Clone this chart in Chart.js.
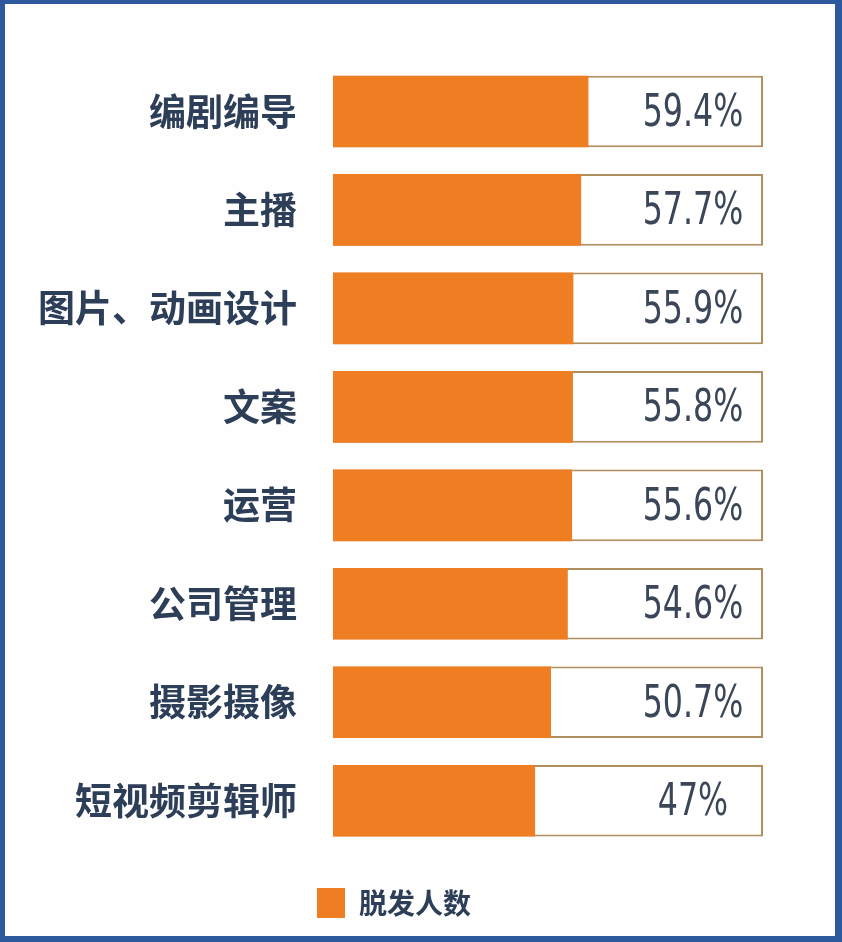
<!DOCTYPE html>
<html>
<head>
<meta charset="utf-8">
<script src="https://cdn.jsdelivr.net/npm/chart.js@4"></script>
<style>
  html, body { margin: 0; padding: 0; background: #fff; }
  #moldura {
    width: 842px; height: 942px; box-sizing: border-box;
    border-style: solid; border-color: #2c5a9c;
    border-width: 4px 7px 6px 5px;
    background: #fefefe;
  }
  #grafico { display: block; }
</style>
</head>
<body>
<div id="moldura"><canvas id="grafico" width="830" height="932"></canvas></div>
<script>
const ctx = document.getElementById('grafico');

    let profissao = ["编剧编导", "主播", "图片、动画设计", "文案", "运营", "公司管理", "摄影摄像", "短视频剪辑师"]
    let porcentagem = [59.4, 57.7, 55.9, 55.8, 55.6, 54.6, 50.7, 47]
    let rotulos = ["59.4%", "57.7%", "55.9%", "55.8%", "55.6%", "54.6%", "50.7%", "47%"]
    let total = [100, 100, 100, 100, 100, 100, 100, 100]

    // escreve o valor dentro da parte branca de cada caixa (texto estreitado)
    const valores = {
        id: 'valores',
        afterDatasetsDraw(chart) {
            const meta = chart.getDatasetMeta(1)
            const c = chart.ctx
            meta.data.forEach((bar, i) => {
                c.save()
                c.font = '44px "DejaVu Sans", sans-serif'
                c.fillStyle = '#3b4658'
                c.textAlign = 'center'
                c.textBaseline = 'middle'
                c.translate(bar.x - 70, bar.y + 3)
                c.scale(0.72, 1)
                c.fillText(rotulos[i], 0, 0)
                c.restore()
            })
        }
    }

    new Chart(ctx, {
        type: 'bar',
        data: {
            labels: profissao,
            datasets: [{
                label: '脱发人数',
                data: porcentagem,
                backgroundColor: '#ef7d22',
                borderWidth: 0,
                grouped: false,
                barPercentage: 0.727,
                categoryPercentage: 1
            }, {
                label: 'total',
                data: total,
                backgroundColor: '#ffffff',
                borderColor: '#b08f5e',
                borderWidth: 2,
                borderSkipped: false,
                grouped: false,
                barPercentage: 0.727,
                categoryPercentage: 1
            }]
        },
        options: {
            indexAxis: 'y',
            responsive: false,
            animation: false,
            layout: {
                padding: { top: 48, right: 72, left: 20, bottom: 8 }
            },
            scales: {
                x: {
                    min: 0,
                    max: 100,
                    grid: { display: false, drawTicks: false },
                    border: { display: false },
                    ticks: { display: false },
                    afterFit(scale) { scale.height = 18 }
                },
                y: {
                    grid: { display: false, drawTicks: false },
                    border: { display: false },
                    ticks: {
                        padding: 36,
                        color: '#2d3e58',
                        font: { size: 37, weight: 'bold', family: '"Noto Sans CJK SC", sans-serif' }
                    },
                    afterFit(scale) { scale.width = 308 }
                }
            },
            plugins: {
                tooltip: { enabled: false },
                legend: {
                    position: 'bottom',
                    labels: {
                        filter: (item) => item.datasetIndex === 0,
                        boxWidth: 28,
                        boxHeight: 30,
                        padding: 20,
                        color: '#2d3e58',
                        font: { size: 28, weight: 'bold', family: '"Noto Sans CJK SC", sans-serif' }
                    }
                }
            }
        },
        plugins: [valores]
    });
</script>
</body>
</html>
